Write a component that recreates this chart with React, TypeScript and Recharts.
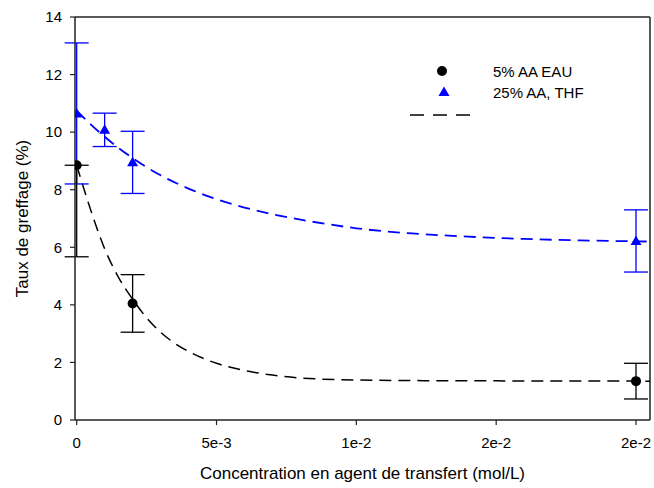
import React from "react";
import {
  ComposedChart,
  Line,
  Scatter,
  ErrorBar,
  XAxis,
  YAxis,
  Label,
  Legend,
  ReferenceLine,
} from "recharts";

const FONT = '"Liberation Sans", Arial, sans-serif';

// measured points, 5% AA in water (upper bar at 0 is hidden in the original)
const eauX = [0, 0.002, 0.02];
const eauY = [8.85, 4.05, 1.35];
const eauErrLow = [3.18, 1.0, 0.62];
const eauErrHigh = [0, 1.0, 0.62];

// measured points, 25% AA in THF
const thfX = [0, 0.001, 0.002, 0.02];
const thfY = [10.65, 10.08, 8.95, 6.22];
const thfErrLow = [2.45, 0.58, 1.08, 1.08];
const thfErrHigh = [2.45, 0.58, 1.08, 1.08];

// fitted curves
const eauFitX = [0, 0.0005, 0.001, 0.0015, 0.002, 0.0025, 0.003, 0.0035, 0.004, 0.005, 0.006, 0.007, 0.008, 0.01, 0.012, 0.015, 0.0205];
const eauFitY = [8.85, 7.3, 5.95, 4.95, 4.2, 3.55, 3.05, 2.67, 2.38, 1.97, 1.72, 1.56, 1.46, 1.39, 1.37, 1.36, 1.35];

const thfFitX = [0, 0.0005, 0.001, 0.0015, 0.002, 0.003, 0.004, 0.005, 0.006, 0.007, 0.008, 0.009, 0.01, 0.012, 0.014, 0.016, 0.018, 0.0205];
const thfFitY = [10.75, 10.27, 9.84, 9.45, 9.1, 8.5, 8.04, 7.67, 7.38, 7.15, 6.96, 6.8, 6.66, 6.48, 6.37, 6.29, 6.24, 6.2];

const xTicks = [0, 0.005, 0.01, 0.015, 0.02];
const xTickLabels = ["0", "5e-3", "1e-2", "2e-2", "2e-2"];
const yTicks = [0, 2, 4, 6, 8, 10, 12, 14];

const legendLabels = ["5% AA EAU", "25% AA, THF"];

const X_MIN = -0.00006;
const X_MAX = 0.0205;

const toPoints = (xs: number[], ys: number[], low?: number[], high?: number[]) =>
  xs.map((x, i) => ({
    x,
    y: ys[i],
    err: low && high ? [low[i], high[i]] : 0,
  }));

const eauPoints = toPoints(eauX, eauY, eauErrLow, eauErrHigh);
const thfPoints = toPoints(thfX, thfY, thfErrLow, thfErrHigh);
const eauFit = toPoints(eauFitX, eauFitY);
const thfFit = toPoints(thfFitX, thfFitY);

const AXIS = "#222";

const CircleDot = (props: any) => {
  const { cx, cy } = props;
  if (cx == null || cy == null) return null;
  return <circle cx={cx} cy={cy} r={5} fill="#000" />;
};

const TriangleDot = (props: any) => {
  const { cx, cy } = props;
  if (cx == null || cy == null) return null;
  return (
    <polygon
      points={`${cx},${cy - 5.5} ${cx - 5.5},${cy + 4} ${cx + 5.5},${cy + 4}`}
      fill="#0000ff"
    />
  );
};

const renderLegend = () => (
  <svg width={250} height={75} style={{ overflow: "visible" }}>
    <circle cx={42} cy={16} r={5} fill="#000" />
    <text x={93} y={16} dominantBaseline="central" fontSize={15} fontFamily={FONT} fill="#000">
      {legendLabels[0]}
    </text>
    <polygon points="44,31.5 38.5,41 49.5,41" fill="#0000ff" />
    <text x={93} y={37} dominantBaseline="central" fontSize={15} fontFamily={FONT} fill="#000">
      {legendLabels[1]}
    </text>
    <line x1={10} y1={60} x2={71} y2={60} stroke="#000" strokeWidth={1.6} strokeDasharray="14 9" />
  </svg>
);

export default function App() {
  return (
    <div style={{ position: "absolute", left: 0, top: 0, background: "#fff" }}>
      <ComposedChart
        width={654}
        height={488}
        margin={{ top: 17, right: 4, bottom: 0, left: 0 }}
        style={{ fontFamily: FONT }}
      >
        <XAxis
          dataKey="x"
          type="number"
          domain={[X_MIN, X_MAX]}
          allowDataOverflow
          ticks={xTicks}
          tickFormatter={(v: number) => xTickLabels[xTicks.indexOf(v)] ?? ""}
          height={68}
          tickSize={5}
          tickMargin={12}
          axisLine={{ stroke: AXIS, strokeWidth: 1.5 }}
          tickLine={{ stroke: AXIS, strokeWidth: 1.2 }}
          tick={{ fill: "#000", fontSize: 15, fontFamily: FONT }}
        >
          <Label
            value="Concentration en agent de transfert (mol/L)"
            position="center"
            dy={19}
            style={{ fontSize: 17, fill: "#000", fontFamily: FONT }}
          />
        </XAxis>
        <YAxis
          type="number"
          domain={[0, 14]}
          ticks={yTicks}
          width={75}
          tickSize={5}
          tickMargin={8}
          axisLine={{ stroke: AXIS, strokeWidth: 1.5 }}
          tickLine={{ stroke: AXIS, strokeWidth: 1.2 }}
          tick={{ fill: "#000", fontSize: 15, fontFamily: FONT }}
        >
          <Label
            value="Taux de greffage (%)"
            angle={-90}
            position="center"
            dx={-16}
            style={{ fontSize: 17, fill: "#000", fontFamily: FONT, textAnchor: "middle" }}
          />
        </YAxis>
        <ReferenceLine y={14} stroke={AXIS} strokeWidth={1.5} />
        <ReferenceLine x={X_MAX} stroke={AXIS} strokeWidth={1.5} />
        <Line
          data={eauFit}
          dataKey="y"
          type="monotone"
          stroke="#000"
          strokeWidth={1.5}
          strokeDasharray="12 7"
          dot={false}
          activeDot={false}
          isAnimationActive={false}
        />
        <Line
          data={thfFit}
          dataKey="y"
          type="monotone"
          stroke="#0000ff"
          strokeWidth={1.8}
          strokeDasharray="12 7"
          dot={false}
          activeDot={false}
          isAnimationActive={false}
        />
        <Scatter data={thfPoints} dataKey="y" shape={<TriangleDot />} isAnimationActive={false}>
          <ErrorBar dataKey="err" direction="y" width={12} stroke="#0000ff" strokeWidth={1.3} isAnimationActive={false} />
        </Scatter>
        <Scatter data={eauPoints} dataKey="y" shape={<CircleDot />} isAnimationActive={false}>
          <ErrorBar dataKey="err" direction="y" width={12} stroke="#000" strokeWidth={1.3} isAnimationActive={false} />
        </Scatter>
        <Legend
          layout="vertical"
          align="center"
          verticalAlign="middle"
          content={renderLegend}
          wrapperStyle={{ left: 400, top: 55, width: 250 }}
        />
      </ComposedChart>
    </div>
  );
}
